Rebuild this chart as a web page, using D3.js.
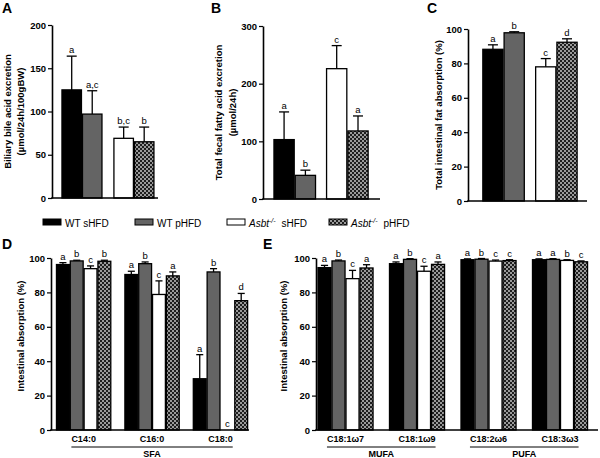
<!DOCTYPE html>
<html>
<head>
<meta charset="utf-8">
<script src="https://cdn.jsdelivr.net/npm/d3@7"></script>
<style>
  body { margin: 0; background: #fff; }
  text { font-family: Arial, "Liberation Sans", Helvetica, sans-serif; }
</style>
</head>
<body>
<script>
// series / legend
const seriesNames = ["WT sHFD", "WT pHFD", "Asbt sHFD", "Asbt pHFD"];
const fills = ["#000", "#646464", "#fff", "url(#checker)"];

// panels A-C : pairs by genotype
const genotypes = ["WT", "Asbt"];
const bileMeans = [[125, 97], [69, 65]];
const bileSD = [[39, 27], [13, 17]];
const bileSig = [["a", "a,c"], ["b,c", "b"]];

const fecalMeans = [[103, 41], [226, 118]];
const fecalSD = [[48, 9], [40, 26]];
const fecalSig = [["a", "b"], ["c", "a"]];

const fatMeans = [[88.2, 97.8], [78, 92.3]];
const fatSD = [[2.6, 0.6], [4.8, 2]];
const fatSig = [["a", "b"], ["c", "d"]];

// panel D : saturated fatty acids
const sfaCats = ["C14:0", "C16:0", "C18:0"];
const sfaMeans = [[96.2, 98.3, 93.8, 98.1], [90.4, 96.7, 78.8, 89.6], [29.8, 91.9, 0, 75.2]];
const sfaSD = [[1.1, 0.4, 1.6, 0.6], [1.9, 1, 7.9, 2.3], [14, 1.9, 0, 4.2]];
const sfaSig = [["a", "b", "c", "b"], ["a", "b", "c", "a"], ["a", "b", "c", "d"]];

// panel E : unsaturated fatty acids
const ufaCats = ["C18:1\u03c97", "C18:1\u03c99", "C18:2\u03c96", "C18:3\u03c93"];
const ufaClass = ["MUFA", "MUFA", "PUFA", "PUFA"];
const ufaMeans = [[94.4, 98.3, 88, 94.2], [96.7, 99.2, 92.3, 96.3], [99, 99.3, 98.2, 98.5], [99, 99.2, 98.6, 97.8]];
const ufaSD = [[1.3, 0.5, 4.8, 1.9], [1, 0.4, 2.9, 1.4], [0.5, 0.4, 0.6, 0.5], [0.5, 0.4, 0.4, 0.5]];
const ufaSig = [["a", "b", "c", "a"], ["a", "b", "c", "a"], ["a", "b", "c", "c"], ["a", "a", "b", "c"]];

const svg = d3.select("body").append("svg")
  .attr("width", 600).attr("height", 458)
  .style("display", "block");

svg.append("rect").attr("width", 600).attr("height", 458).attr("fill", "#fff");

// checker pattern for Asbt pHFD
const pat = svg.append("defs").append("pattern")
  .attr("id", "checker").attr("patternUnits", "userSpaceOnUse")
  .attr("width", 4).attr("height", 4);
pat.append("rect").attr("width", 4).attr("height", 4).attr("fill", "#9a9a9a");
pat.append("rect").attr("width", 2).attr("height", 2).attr("fill", "#1e1e1e");
pat.append("rect").attr("x", 2).attr("y", 2).attr("width", 2).attr("height", 2).attr("fill", "#1e1e1e");

function drawPanel(p) {
  const g = svg.append("g");
  const y = d3.scaleLinear().domain([0, p.max]).range([p.yBot, p.yTop]);
  const x0 = d3.scaleBand().domain(p.groups).range([p.xL, p.xR])
    .paddingInner(p.pi).paddingOuter(p.po).align(p.al);
  const nb = p.means[0].length;
  const x1 = d3.scaleBand().domain(d3.range(nb)).range([0, x0.bandwidth()]).paddingInner(p.bp);
  const bw = x1.bandwidth();

  // bars
  p.groups.forEach((grp, gi) => {
    p.means[gi].forEach((m, j) => {
      const bx = x0(grp) + x1(j);
      const cx = bx + bw / 2;
      const sd = p.sds[gi][j];
      if (m > 0) {
        g.append("rect")
          .attr("x", bx).attr("y", y(m))
          .attr("width", bw).attr("height", p.yBot - y(m))
          .attr("fill", fills[p.fillIdx(gi, j)])
          .attr("stroke", "#000").attr("stroke-width", 1.3);
      }
      if (sd > 0) {
        const cap = Math.min(10, bw * 0.55);
        g.append("line").attr("x1", cx).attr("x2", cx)
          .attr("y1", y(m)).attr("y2", y(m + sd))
          .attr("stroke", "#000").attr("stroke-width", 1.3);
        g.append("line").attr("x1", cx - cap / 2).attr("x2", cx + cap / 2)
          .attr("y1", y(m + sd)).attr("y2", y(m + sd))
          .attr("stroke", "#000").attr("stroke-width", 1.3);
      }
      g.append("text")
        .attr("x", cx).attr("y", y(m + sd) - 3)
        .attr("text-anchor", "middle")
        .attr("font-size", 9.5)
        .text(p.sig[gi][j]);
    });
  });

  // axes
  const ya = g.append("g")
    .attr("transform", `translate(${p.xL},0)`)
    .call(d3.axisLeft(y).tickValues(p.ticks).tickSize(4).tickSizeOuter(0).tickPadding(2));
  ya.select(".domain").attr("stroke-width", 1.6);
  ya.selectAll(".tick line").attr("stroke-width", 1.2);
  ya.selectAll("text").attr("font-size", 9.5).attr("font-weight", "bold")
    .attr("font-family", "Arial, 'Liberation Sans', sans-serif").attr("fill", "#000");
  g.append("line").attr("x1", p.xL - 0.8).attr("x2", p.xR)
    .attr("y1", p.yBot).attr("y2", p.yBot)
    .attr("stroke", "#000").attr("stroke-width", 1.6);

  // y title
  const cy = p.titleY !== undefined ? p.titleY : (p.yTop + p.yBot) / 2;
  p.title.forEach((t, i) => {
    g.append("text")
      .attr("transform", `translate(${p.titleX[i]},${cy}) rotate(-90)`)
      .attr("text-anchor", "middle")
      .attr("font-size", 9.5).attr("font-weight", "bold")
      .text(t);
  });

  // panel letter
  g.append("text").attr("x", p.letterX).attr("y", p.letterY)
    .attr("font-size", 14).attr("font-weight", "bold").text(p.letter);

  // category labels + class brackets
  if (p.catLabels) {
    const labs = p.groups.map(grp => g.append("text")
      .attr("x", x0(grp) + x0.bandwidth() / 2).attr("y", p.yBot + 12)
      .attr("text-anchor", "middle")
      .attr("font-size", 9).attr("font-weight", "bold")
      .text(grp));
    const classes = Array.from(new Set(p.classes));
    classes.forEach(cl => {
      const idx = p.classes.map((c, i) => c === cl ? i : -1).filter(i => i >= 0);
      const b0 = labs[idx[0]].node().getBBox();
      const b1 = labs[idx[idx.length - 1]].node().getBBox();
      const lx0 = b0.x, lx1 = b1.x + b1.width;
      g.append("line").attr("x1", lx0).attr("x2", lx1)
        .attr("y1", p.yBot + 17).attr("y2", p.yBot + 17)
        .attr("stroke", "#000").attr("stroke-width", 1);
      g.append("text").attr("x", (lx0 + lx1) / 2).attr("y", p.yBot + 27)
        .attr("text-anchor", "middle")
        .attr("font-size", 9).attr("font-weight", "bold")
        .text(cl);
    });
  }
}

const pairFill = (gi, j) => gi * 2 + j;
const seriesFill = (gi, j) => j;

drawPanel({
  groups: genotypes, means: bileMeans, sds: bileSD, sig: bileSig, fillIdx: pairFill,
  xL: 52, xR: 158, pi: 0.23, po: 0.135, al: 0.71, bp: 0.05,
  yTop: 25, yBot: 198, max: 200, ticks: [0, 50, 100, 150, 200],
  title: ["Biliary bile acid excretion", "(\u00b5mol/24h/100gBW)"], titleX: [11, 24],
  letter: "A", letterX: 2, letterY: 13
});

drawPanel({
  groups: genotypes, means: fecalMeans, sds: fecalSD, sig: fecalSig, fillIdx: pairFill,
  xL: 263, xR: 380, pi: 0.21, po: 0.217, al: 0.48, bp: 0.05,
  yTop: 26, yBot: 199, max: 300, ticks: [0, 100, 200, 300],
  title: ["Total fecal fatty acid excretion", "(\u00b5mol/24h)"], titleX: [222, 236],
  letter: "B", letterX: 211, letterY: 13
});

drawPanel({
  groups: genotypes, means: fatMeans, sds: fatSD, sig: fatSig, fillIdx: pairFill,
  xL: 468, xR: 587, pi: 0.215, po: 0.234, al: 0.6, bp: 0.05,
  yTop: 29, yBot: 201, max: 100, ticks: [0, 20, 40, 60, 80, 100],
  title: ["Total intestinal fat absorption (%)"], titleX: [442],
  letter: "C", letterX: 427, letterY: 13
});

drawPanel({
  groups: sfaCats, means: sfaMeans, sds: sfaSD, sig: sfaSig, fillIdx: seriesFill,
  xL: 51, xR: 249, pi: 0.206, po: 0.05, al: 0.8, bp: 0.07,
  yTop: 258, yBot: 430, max: 100, ticks: [0, 20, 40, 60, 80, 100],
  title: ["Intestinal absorption (%)"], titleX: [24], titleY: 336,
  catLabels: true, classes: ["SFA", "SFA", "SFA"],
  letter: "D", letterX: 2, letterY: 249
});

drawPanel({
  groups: ufaCats, means: ufaMeans, sds: ufaSD, sig: ufaSig, fillIdx: seriesFill,
  xL: 316, xR: 598, pi: 0.23, po: 0.087, al: 0.16, bp: 0.07,
  yTop: 258, yBot: 430, max: 100, ticks: [0, 20, 40, 60, 80, 100],
  title: ["Intestinal absorption (%)"], titleX: [287], titleY: 336,
  catLabels: true, classes: ufaClass,
  letter: "E", letterX: 263, letterY: 249
});

// legend
const legX = [43, 135, 227, 329];
const leg = svg.append("g");
seriesNames.forEach((name, i) => {
  leg.append("rect").attr("x", legX[i]).attr("y", 219).attr("width", 18).attr("height", 6)
    .attr("fill", fills[i]).attr("stroke", "#000").attr("stroke-width", 1);
  const t = leg.append("text").attr("x", legX[i] + 22).attr("y", 226.5).attr("font-size", 10);
  if (name.startsWith("Asbt")) {
    t.append("tspan").attr("font-style", "italic").text("Asbt");
    t.append("tspan").attr("font-style", "italic").attr("font-size", 7).attr("dy", -4).text("-/-");
    t.append("tspan").attr("dy", 4).attr("dx", 3).text(name.replace("Asbt", ""));
  } else {
    t.text(name);
  }
});
</script>
</body>
</html>
